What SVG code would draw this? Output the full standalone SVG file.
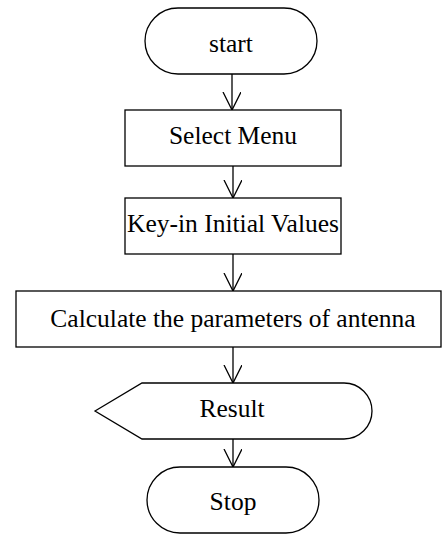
<svg xmlns="http://www.w3.org/2000/svg" width="442" height="534" viewBox="0 0 442 534">
<style>
.s{fill:#fff;stroke:#000;stroke-width:1.3}
.t{font-family:"Liberation Serif","Times New Roman",serif;font-size:25.5px;fill:#000;text-anchor:middle}
.c{fill:none;stroke:#000;stroke-width:1.3}
</style>
<defs>
<marker id="a" markerWidth="20" markerHeight="20" refX="18" refY="9" orient="auto" markerUnits="userSpaceOnUse">
<path d="M0,0 L18,9 L0,18" fill="none" stroke="#000" stroke-width="1.3"/>
</marker>
</defs>
<rect width="442" height="534" fill="#fff"/>
<g id="connectors">
<line class="c" x1="232" y1="74" x2="232" y2="110" marker-end="url(#a)"/>
<line class="c" x1="233" y1="166" x2="233" y2="198" marker-end="url(#a)"/>
<line class="c" x1="233" y1="254" x2="233" y2="291" marker-end="url(#a)"/>
<line class="c" x1="233" y1="347" x2="233" y2="383" marker-end="url(#a)"/>
<line class="c" x1="233" y1="439" x2="233" y2="467" marker-end="url(#a)"/>
</g>
<g id="start">
<rect class="s" x="145" y="8" width="172" height="66" rx="33"/>
<text class="t" x="231" y="52">start</text>
</g>
<g id="select">
<rect class="s" x="125" y="110" width="216" height="56"/>
<text class="t" x="233" y="144">Select Menu</text>
</g>
<g id="keyin">
<rect class="s" x="125" y="198" width="216" height="56"/>
<text class="t" x="233" y="232">Key-in Initial Values</text>
</g>
<g id="calc">
<rect class="s" x="16" y="291" width="425" height="56"/>
<text class="t" x="233" y="327">Calculate the parameters of antenna</text>
</g>
<g id="result">
<path class="s" d="M95,411 L142,383 L344,383 A28,28 0 0 1 344,439 L142,439 Z"/>
<text class="t" x="232" y="417">Result</text>
</g>
<g id="stop">
<rect class="s" x="147" y="467" width="172" height="66" rx="33"/>
<text class="t" x="233" y="510">Stop</text>
</g>
</svg>
